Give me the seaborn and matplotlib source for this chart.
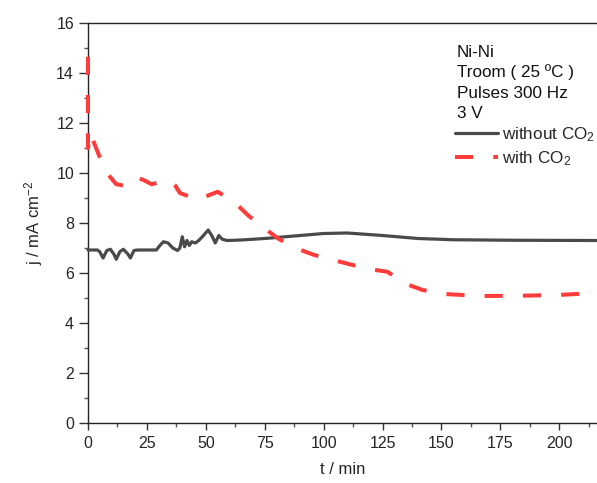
import matplotlib
matplotlib.use("Agg")
import matplotlib.pyplot as plt
from matplotlib.ticker import MultipleLocator
import seaborn as sns

# Current density without CO2 (t in min, j in mA cm^-2)
t_without = [0, 4, 5, 6.4, 8, 9.5, 11, 12, 13.5, 15, 17, 18, 19.5, 21, 29, 30.5,
             32, 34, 36, 38, 39, 40, 41, 42, 43, 44, 45.5, 47, 49, 51, 52.5, 54,
             55.5, 57, 59, 65, 75, 90, 100, 110, 125, 140, 155, 180, 216]
j_without = [6.92, 6.92, 6.85, 6.6, 6.9, 6.95, 6.75, 6.55, 6.85, 6.95, 6.75, 6.6,
             6.9, 6.92, 6.92, 7.1, 7.25, 7.2, 7.0, 6.9, 7.0, 7.45, 7.05, 7.3, 7.1,
             7.25, 7.2, 7.3, 7.5, 7.72, 7.5, 7.2, 7.5, 7.35, 7.3, 7.32, 7.38, 7.5,
             7.58, 7.6, 7.5, 7.38, 7.33, 7.31, 7.3]

# Current density with CO2
t_with = [0, 0, 1.0, 3, 6, 8, 12, 15, 20, 24, 27, 34, 37, 39, 47, 51, 55, 62, 68,
          74, 81, 88, 96, 111, 120, 127, 135, 142, 151, 159, 167, 183, 199, 216]
j_with = [14.65, 11.0, 11.6, 11.1, 10.4, 10.0, 9.55, 9.5, 9.85, 9.7, 9.55, 9.72,
          9.5, 9.2, 8.92, 9.1, 9.25, 8.85, 8.3, 7.85, 7.36, 7.0, 6.72, 6.35, 6.15,
          6.05, 5.56, 5.32, 5.16, 5.12, 5.08, 5.09, 5.12, 5.2]

labels = ["without CO$_2$", "with CO$_2$"]
info_lines = ["Ni-Ni", "Troom ( 25 ºC )", "Pulses 300 Hz", "3 V"]
x_ticks = [0, 25, 50, 75, 100, 125, 150, 175, 200]
y_ticks = [0, 2, 4, 6, 8, 10, 12, 14, 16]

sns.set_style("ticks")
plt.rcParams["font.family"] = ["Liberation Sans", "DejaVu Sans"]
plt.rcParams["mathtext.fontset"] = "custom"
plt.rcParams["mathtext.rm"] = "Liberation Sans"
plt.rcParams["mathtext.it"] = "Liberation Sans:italic"
plt.rcParams["axes.unicode_minus"] = False

W, H = 597, 483
fig = plt.figure(figsize=(W / 100, H / 100), dpi=100)
ax = fig.add_axes([88 / W, 60 / H, 509 / W, 400 / H])

sns.lineplot(x=t_without, y=j_without, ax=ax, estimator=None, sort=False,
             color="#4a4a4a", lw=2.3, label=labels[0], zorder=3)
sns.lineplot(x=t_with, y=j_with, ax=ax, estimator=None, sort=False,
             color="#ff3b3b", lw=2.9, dashes=(4.5, 5), label=labels[1], zorder=4)
for line in ax.get_lines():
    line.set_clip_on(False)

ax.set_xlim(0, 216)
ax.set_ylim(0, 16)
ax.set_xticks(x_ticks)
ax.set_yticks(y_ticks)
ax.xaxis.set_minor_locator(MultipleLocator(12.5))
ax.yaxis.set_minor_locator(MultipleLocator(1))

for side in ["left", "bottom", "top"]:
    ax.spines[side].set_color("#222222")
    ax.spines[side].set_linewidth(1.0)
ax.spines["right"].set_visible(False)

ax.tick_params(axis="y", which="major", direction="out", length=6.5, width=1,
               pad=3.5, labelsize=11.5, color="#333333")
ax.tick_params(axis="y", which="minor", direction="out", length=3, width=1,
               color="#555555")
ax.tick_params(axis="x", which="major", direction="out", length=5, width=1,
               pad=4, labelsize=11.5, color="#333333")
ax.tick_params(axis="x", which="minor", direction="out", length=3, width=1,
               color="#555555")

ax.set_xlabel("t / min", fontsize=12, labelpad=8)
ax.set_ylabel("j / mA cm$^{-2}$", fontsize=12, labelpad=8)

# Experimental conditions block
x0 = (457 - 88) / 509
for i, line in enumerate(info_lines):
    base_px = 57 + i * 20.3
    ax.text(x0, (423 - base_px) / 400, line, transform=ax.transAxes,
            fontsize=12.3, va="baseline", ha="left", color="#111111")

leg = ax.legend(loc="upper left", bbox_to_anchor=((455 - 88) / 509, (423 - 125) / 400),
                frameon=False, fontsize=12.3, handlelength=2.5, handletextpad=0.25,
                borderpad=0, borderaxespad=0, labelspacing=0.3)

fig.savefig("out.png", dpi=100)
